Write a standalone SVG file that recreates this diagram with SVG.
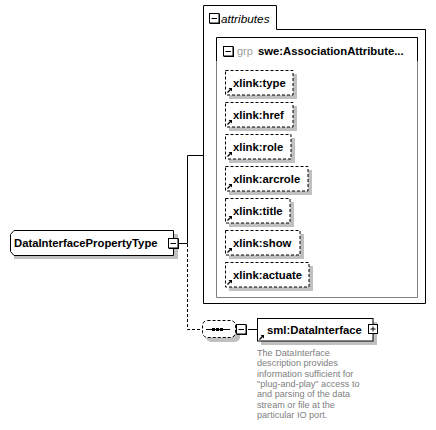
<svg xmlns="http://www.w3.org/2000/svg" width="436" height="430" viewBox="0 0 436 430">
<defs>
<style>
.t{font-family:"Liberation Sans",Arial,sans-serif;font-size:11.3px;font-weight:bold;fill:#000}
.d{font-family:"Liberation Sans",Arial,sans-serif;font-size:9.1px;fill:#808080}
.sh{fill:#c0c0c0}
.att{fill:#fff;stroke:#000;stroke-width:1;stroke-dasharray:3,2}
.ln{fill:none;stroke:#000;stroke-width:1}
.dl{fill:none;stroke:#000;stroke-width:1;stroke-dasharray:3,2}
</style>
<g id="ref">
<path d="M2.5,6.5 L6.5,2.5" stroke="#000" stroke-width="1.2" fill="none"/>
<path d="M3.5,2 L7,2 L7,5.5 Z" fill="#000"/>
</g>
<g id="minus">
<rect x="1" y="1" width="10" height="10" fill="#000"/>
<rect x="0.5" y="0.5" width="9.5" height="9.5" fill="#fff" stroke="#000"/>
<path d="M2.5,5.5 H8" stroke="#000" stroke-width="1"/>
</g>
</defs>

<g id="connectors">
<path class="ln" d="M179,243.5 H187.5 V155.5 H203"/>
<path class="dl" d="M187.5,244 V329.5 H202"/>
<path class="ln" d="M248,329.5 H257"/>
</g>

<g id="DataInterfacePropertyType">
<rect class="sh" x="14" y="234" width="164" height="25"/>
<path d="M14,230.5 H173.5 V255.5 H14 L10.5,251.5 V234.5 Z" fill="#fff" stroke="#000"/>
<text class="t" x="14" y="247">DataInterfacePropertyType</text>
<use href="#minus" x="168" y="238"/>
</g>

<g id="attributes">
<path d="M203.5,5.5 H276.5 V29.5 H425.5 V303.5 H203.5 Z" fill="#fff" stroke="#000"/>
<use href="#minus" x="209" y="13"/>
<text x="221" y="23" style="font-family:'Liberation Sans',Arial,sans-serif;font-size:11.8px;font-style:italic;fill:#000">attributes</text>
</g>

<g id="AssociationAttributeGroup">
<rect x="216.5" y="37.5" width="201" height="260" fill="#fff" stroke="none"/>
<path d="M216.5,61 V297.5 H417.5 V61" fill="none" stroke="#808080"/>
<path d="M216.5,61 V37.5 H417.5 V61" fill="none" stroke="#000"/>
<use href="#minus" x="223" y="46"/>
<text x="237" y="55" style="font-family:'Liberation Sans',Arial,sans-serif;font-size:11px;fill:#a0a0a0">grp</text>
<text class="t" x="258" y="55">swe:AssociationAttribute...</text>
</g>

<g id="xlink_type">
<rect class="sh" x="229" y="74" width="68" height="25"/>
<rect class="att" x="225.5" y="70.5" width="67.5" height="24.5"/>
<text class="t" x="233" y="87">xlink:type</text>
<use href="#ref" x="225" y="86"/>
</g>
<g id="xlink_href">
<rect class="sh" x="229" y="106" width="68" height="25"/>
<rect class="att" x="225.5" y="102.5" width="67.5" height="24.5"/>
<text class="t" x="233" y="119">xlink:href</text>
<use href="#ref" x="225" y="118"/>
</g>
<g id="xlink_role">
<rect class="sh" x="229" y="138" width="66" height="25"/>
<rect class="att" x="225.5" y="134.5" width="65.5" height="24.5"/>
<text class="t" x="233" y="151">xlink:role</text>
<use href="#ref" x="225" y="150"/>
</g>
<g id="xlink_arcrole">
<rect class="sh" x="229" y="170" width="83" height="25"/>
<rect class="att" x="225.5" y="166.5" width="82.5" height="24.5"/>
<text class="t" x="233" y="183">xlink:arcrole</text>
<use href="#ref" x="225" y="182"/>
</g>
<g id="xlink_title">
<rect class="sh" x="229" y="202" width="65" height="25"/>
<rect class="att" x="225.5" y="198.5" width="64.5" height="24.5"/>
<text class="t" x="233" y="215">xlink:title</text>
<use href="#ref" x="225" y="214"/>
</g>
<g id="xlink_show">
<rect class="sh" x="229" y="234" width="75" height="25"/>
<rect class="att" x="225.5" y="230.5" width="74.5" height="24.5"/>
<text class="t" x="233" y="247">xlink:show</text>
<use href="#ref" x="225" y="246"/>
</g>
<g id="xlink_actuate">
<rect class="sh" x="229" y="266" width="84" height="25"/>
<rect class="att" x="225.5" y="262.5" width="83.5" height="24.5"/>
<text class="t" x="233" y="279">xlink:actuate</text>
<use href="#ref" x="225" y="278"/>
</g>

<g id="sequence">
<rect class="sh" x="206" y="324" width="34" height="18" rx="5"/>
<rect x="202.5" y="320.5" width="33" height="17" rx="5" fill="#fff" stroke="#000" stroke-dasharray="3,2"/>
<path d="M206,329.5 H230" stroke="#000"/>
<rect x="212" y="328" width="3" height="3" fill="#000"/>
<rect x="216" y="328" width="3" height="3" fill="#000"/>
<rect x="220" y="328" width="3" height="3" fill="#000"/>
<use href="#minus" x="236" y="324"/>
</g>

<g id="sml_DataInterface">
<rect class="sh" x="261" y="322" width="116" height="23"/>
<rect x="257.5" y="318.5" width="115.5" height="22.5" fill="#fff" stroke="#000"/>
<text class="t" x="267" y="334">sml:DataInterface</text>
<use href="#ref" x="257" y="333"/>
<rect x="368.5" y="324.5" width="9" height="9" fill="#fff" stroke="#000"/>
<path d="M370.5,329 H375.5 M373,326.5 V331.5" stroke="#000"/>
<text class="d" x="257" y="356">The DataInterface</text>
<text class="d" x="257" y="366.3">description provides</text>
<text class="d" x="257" y="376.6">information sufficient for</text>
<text class="d" x="257" y="386.9">"plug-and-play" access to</text>
<text class="d" x="257" y="397.2">and parsing of the data</text>
<text class="d" x="257" y="407.5">stream or file at the</text>
<text class="d" x="257" y="417.8">particular IO port.</text>
</g>
</svg>
